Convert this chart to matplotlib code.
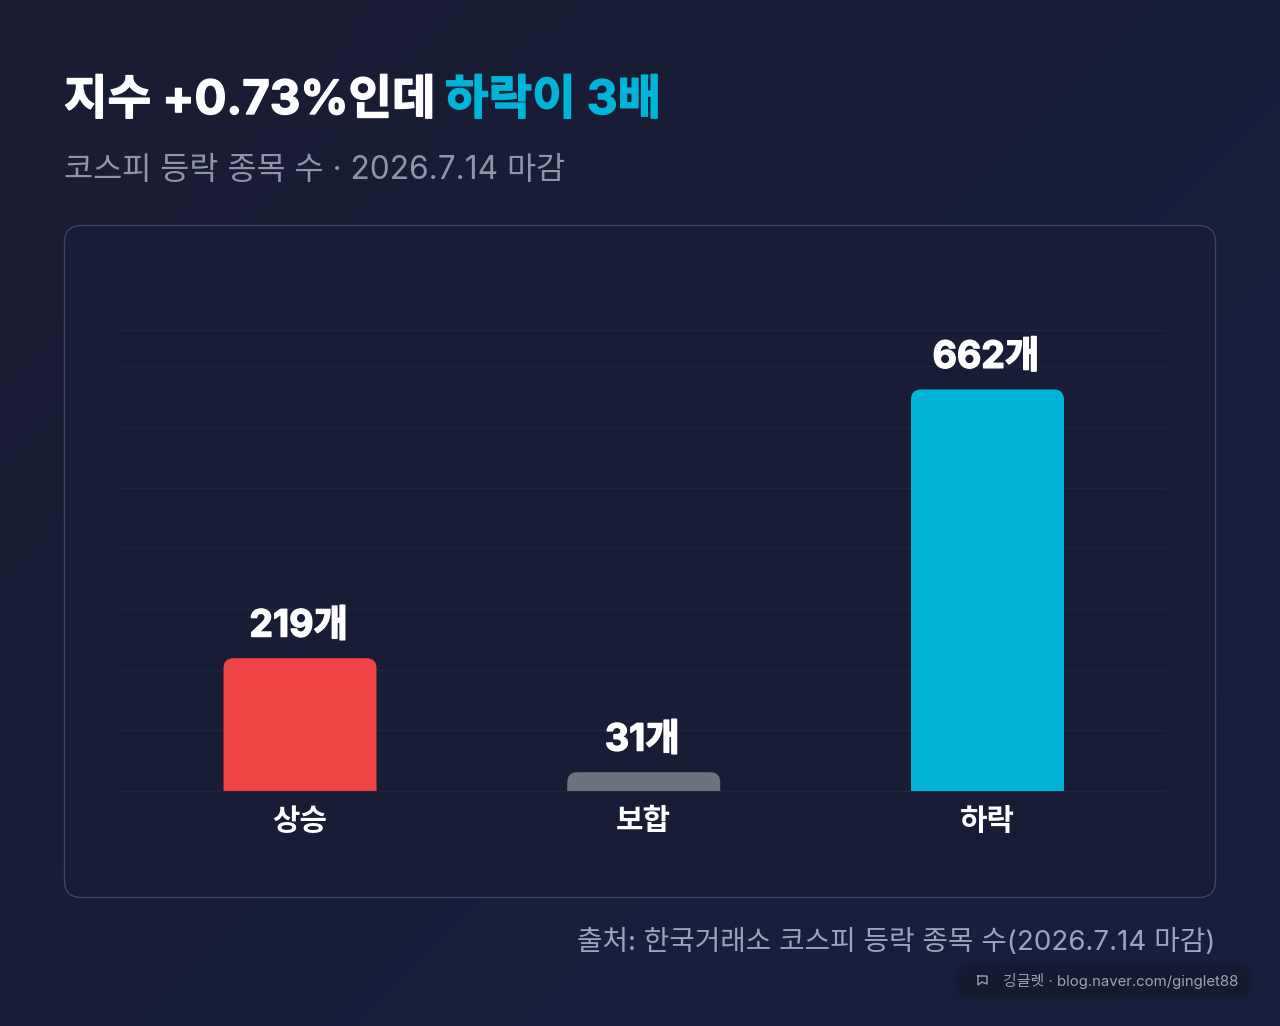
import numpy as np
import matplotlib
matplotlib.use("Agg")
import matplotlib.pyplot as plt
from matplotlib.patches import FancyBboxPatch
from matplotlib.patheffects import withStroke

plt.rcParams['font.family'] = ['Inter', 'Noto Sans CJK KR', 'DejaVu Sans']

categories = ['상승', '보합', '하락']
counts = [219, 31, 662]
count_labels = ['219개', '31개', '662개']
bar_colors = ['#ef4444', '#6b7280', '#00b4d8']
grid_values = [0, 100, 200, 300, 400, 500, 600, 700, 760]

W, H = 1280, 1026
fig = plt.figure(figsize=(W / 100, H / 100), dpi=100)

# page layer, measured in pixels from the top left corner
page = fig.add_axes([0, 0, 1, 1])
page.set_xlim(0, W)
page.set_ylim(H, 0)
page.axis('off')

# diagonal background gradient
yy, xx = np.mgrid[0:1:256j, 0:1:256j]
t = (xx * W + yy * H) / (W + H)
c0 = np.array([0x1a, 0x1c, 0x32]) / 255
c1 = np.array([0x16, 0x21, 0x3e]) / 255
page.imshow(c0 + (c1 - c0) * t[..., None], extent=[0, W, H, 0], aspect='auto', zorder=0)

# chart card
page.add_patch(FancyBboxPatch((64.5, 225.5), 1151, 672, boxstyle='round,pad=0,rounding_size=17',
                              fc='#181c35', ec='#3f4560', lw=1, zorder=1))

# titles
page.text(64, 114, '지수 +0.73%인데', color='white', fontsize=34.1, fontweight='bold',
          va='baseline', zorder=3, path_effects=[withStroke(linewidth=1.0, foreground='white')])
page.text(445, 114, '하락이 3배', color='#00b4d8', fontsize=34.1, fontweight='bold',
          va='baseline', zorder=3, path_effects=[withStroke(linewidth=1.0, foreground='#00b4d8')])
page.text(64, 179, '코스피 등락 종목 수 · 2026.7.14 마감', color='#9094a9', fontsize=22.8,
          va='baseline', zorder=3)

# source line
page.text(1215, 950, '출처: 한국거래소 코스피 등락 종목 수(2026.7.14 마감)', color='#9aa5bb',
          fontsize=20, ha='right', va='baseline', zorder=3)

# credit pill, layered so the edge stays soft
for grow, a in [(6, 0.2), (3, 0.3), (0, 0.6)]:
    page.add_patch(FancyBboxPatch((958 - grow, 965 - grow), 292 + 2 * grow, 31 + 2 * grow,
                                  boxstyle=f'round,pad=0,rounding_size={15 + grow}',
                                  fc='#151a2e', ec='none', alpha=a, zorder=2))
page.plot([978, 987, 987, 982, 978, 978], [976, 976, 984, 982, 985, 976], color='#9aa0b0', lw=1, zorder=3)
page.text(1003, 986, '깅글렛 · blog.naver.com/ginglet88', color='#9aa3b5', fontsize=10.75,
          va='baseline', zorder=3)

# chart area: left 120 right 1165, top 330 bottom 791
ax = fig.add_axes([120 / W, 1 - 791 / H, 1045 / W, 461 / H], zorder=2)
ax.patch.set_alpha(0)
x = np.arange(len(categories))
bar_w = 153 / 343.7
ax.set_xlim(-180 / 343.7, 2 + 177.5 / 343.7)
ax.set_ylim(0, 760)

for v in grid_values:
    ax.axhline(v, color='#ffffff', alpha=0.035, lw=1, zorder=1, clip_on=False)

px_per_x = 343.7
px_per_y = 461 / 760
radius = 10
for i, (v, col, lab) in enumerate(zip(counts, bar_colors, count_labels)):
    # rounded box runs below zero so only the top corners show after clipping
    r_y = radius / px_per_y
    box = FancyBboxPatch((x[i] - bar_w / 2, -2 * r_y), bar_w, v + 2 * r_y,
                         boxstyle=f'round,pad=0,rounding_size={radius / px_per_x}',
                         mutation_aspect=px_per_x / px_per_y,
                         fc=col, ec='none', zorder=3)
    ax.add_patch(box)
    ax.annotate(lab, (x[i], v), xytext=(-1, 9.8), textcoords='offset points', ha='center', va='bottom',
                color='white', fontsize=27, fontweight='bold', zorder=4,
                path_effects=[withStroke(linewidth=1.0, foreground='white')])

ax.set_xticks(x)
ax.set_xticklabels(categories, color='white', fontsize=21.5, fontweight='bold')
ax.tick_params(axis='x', length=0, pad=12)
ax.set_yticks([])
for s in ax.spines.values():
    s.set_visible(False)

fig.savefig('out.png', dpi=100)
